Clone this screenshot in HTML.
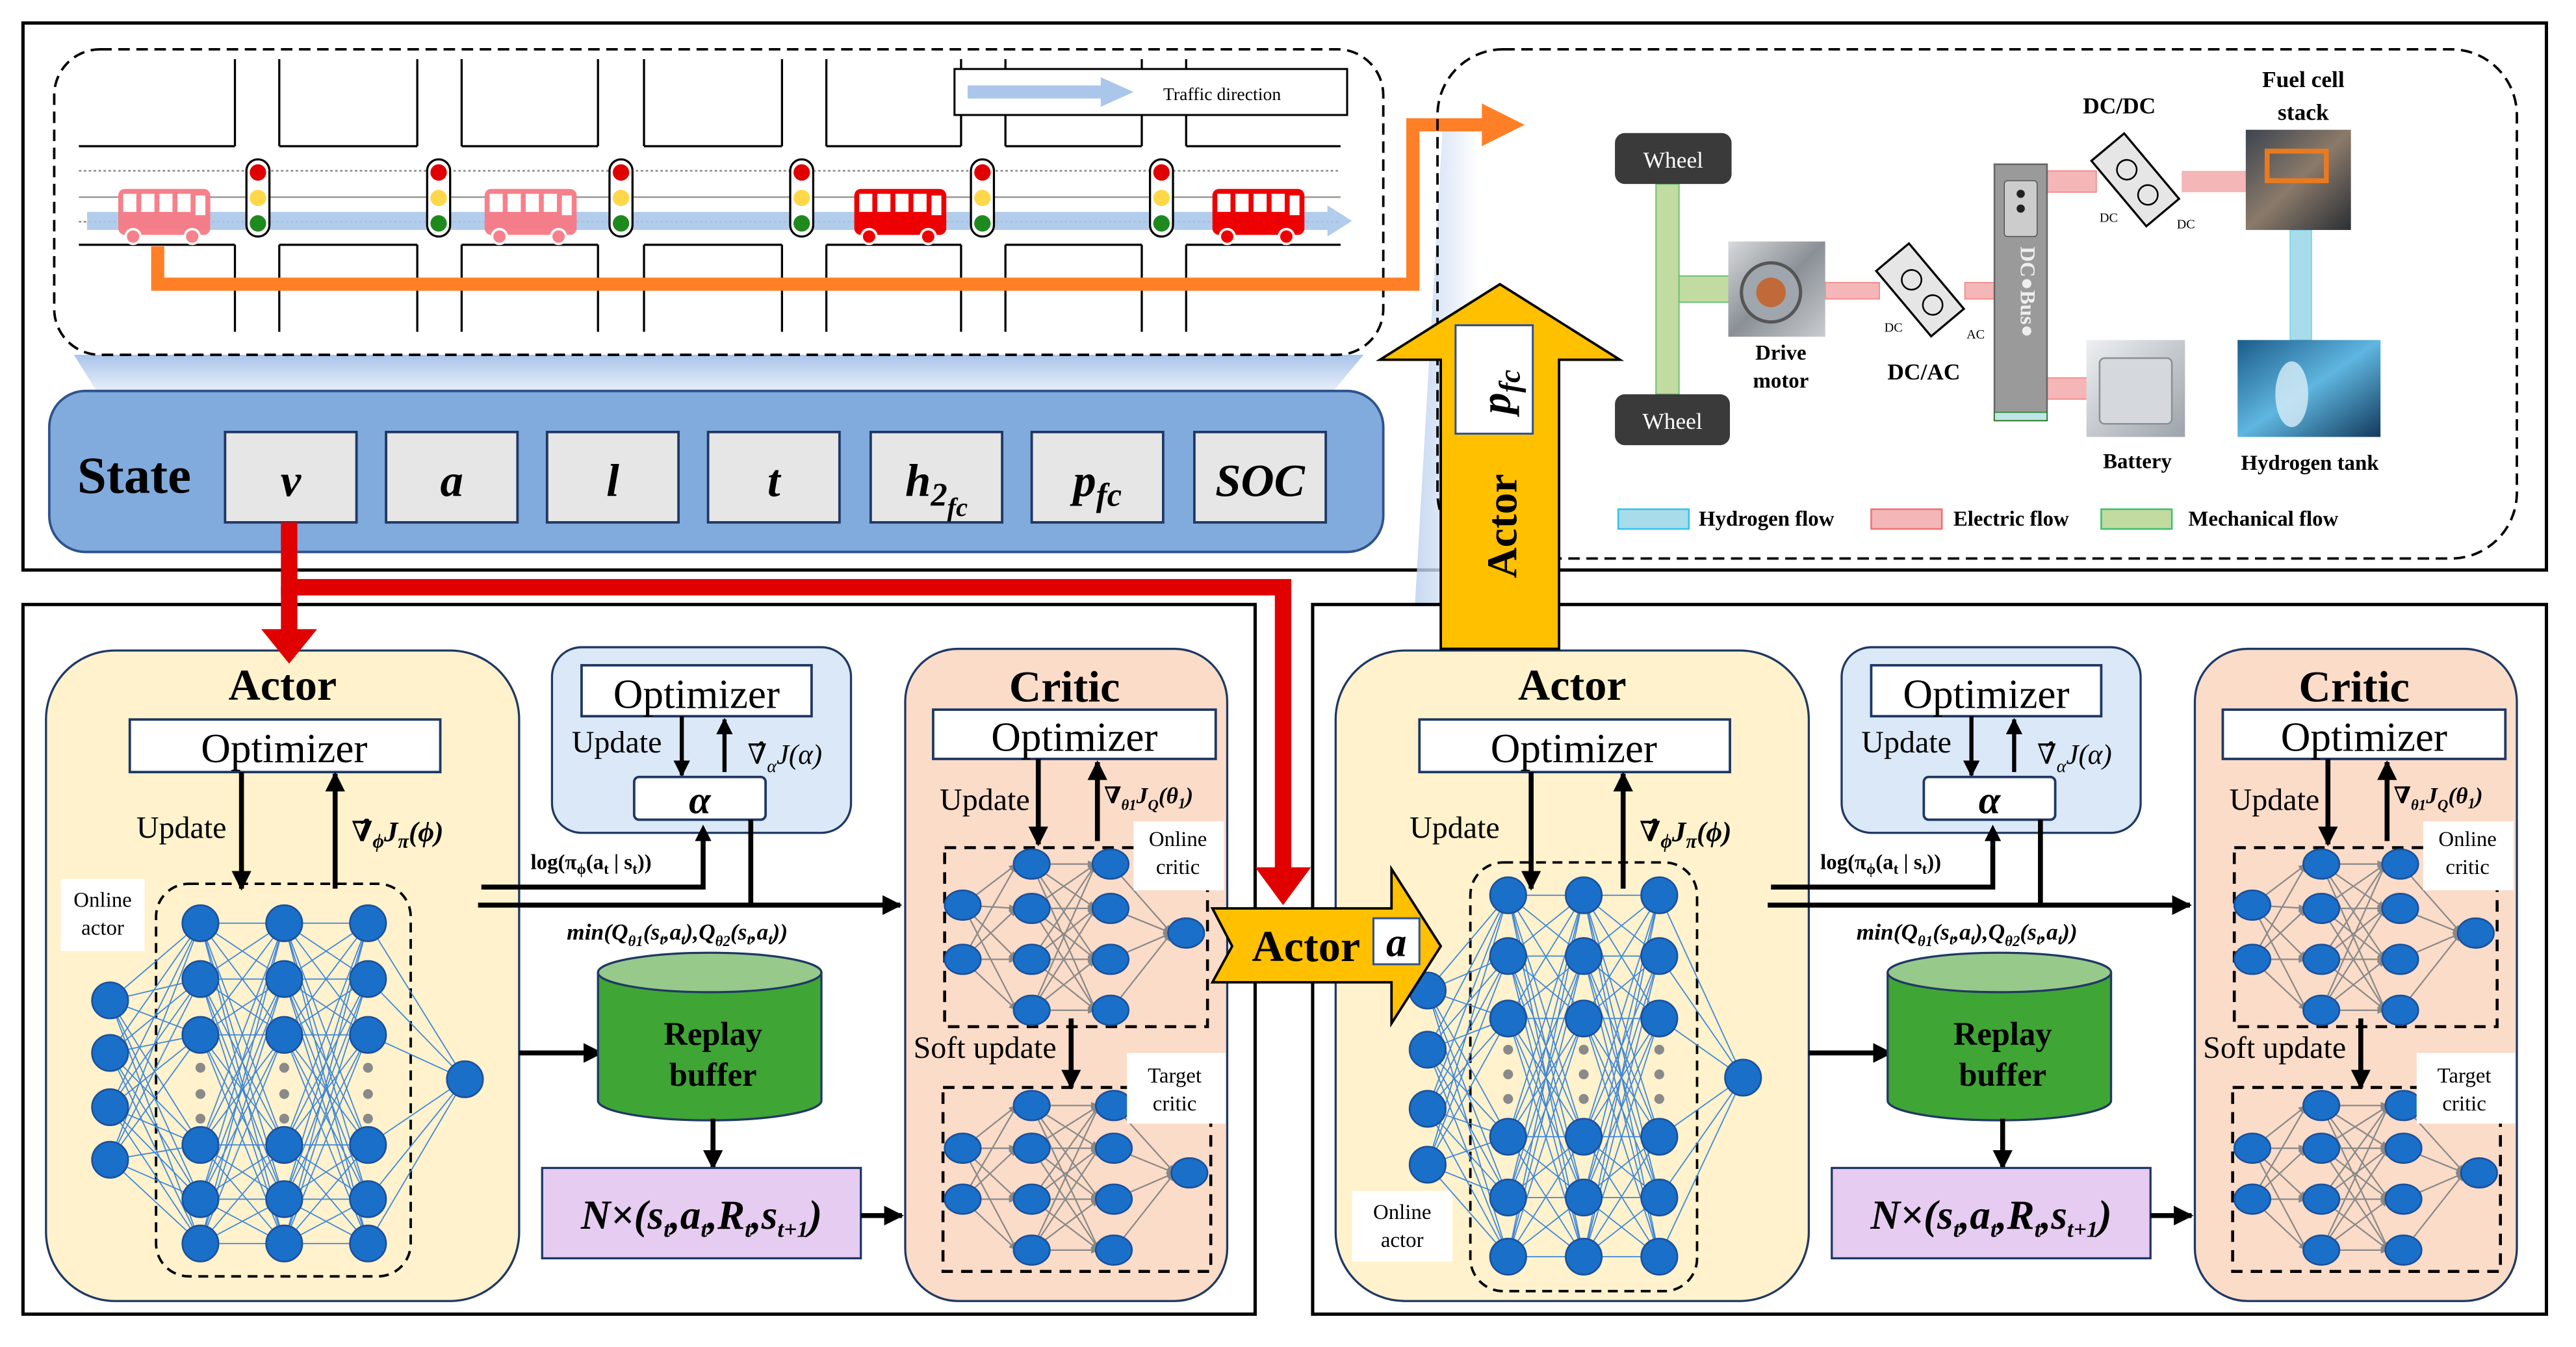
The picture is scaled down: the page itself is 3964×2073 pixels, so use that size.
<!DOCTYPE html>
<html><head><meta charset="utf-8">
<style>
html,body{margin:0;padding:0;background:#fff;}
svg{display:block;}
text{font-family:"Liberation Serif","DejaVu Serif",serif;}
</style></head>
<body>
<svg id="s" xmlns="http://www.w3.org/2000/svg" width="3964" height="2073" viewBox="0 0 1568 820" preserveAspectRatio="none">
<defs>
<marker id="ah" viewBox="0 0 10 10" refX="9" refY="5" markerWidth="4" markerHeight="4" orient="auto-start-reverse" markerUnits="strokeWidth"><path d="M0,0 L10,5 L0,10 z" fill="#000"/></marker>
<marker id="gh" viewBox="0 0 10 10" refX="9" refY="5" markerWidth="6" markerHeight="6" orient="auto"><path d="M0,1 L10,5 L0,9 z" fill="#888"/></marker>
<linearGradient id="fan" x1="0" y1="0" x2="0" y2="1"><stop offset="0" stop-color="#a9c4ea"/><stop offset="1" stop-color="#eef3fb"/></linearGradient>
<linearGradient id="fan2" x1="1" y1="0" x2="0" y2="0"><stop offset="0" stop-color="#fff"/><stop offset="1" stop-color="#b7cdee"/></linearGradient>
<linearGradient id="img1" x1="0" y1="0" x2="1" y2="1"><stop offset="0" stop-color="#d8dadc"/><stop offset=".5" stop-color="#8a9096"/><stop offset="1" stop-color="#c9ccd0"/></linearGradient>
<linearGradient id="img2" x1="0" y1="0" x2="1" y2="1"><stop offset="0" stop-color="#3c4450"/><stop offset=".5" stop-color="#8b7a6a"/><stop offset="1" stop-color="#2a2f36"/></linearGradient>
<linearGradient id="img3" x1="0" y1="0" x2="1" y2="1"><stop offset="0" stop-color="#1b5c8a"/><stop offset=".5" stop-color="#5fb6e0"/><stop offset="1" stop-color="#123a5c"/></linearGradient>
<linearGradient id="img4" x1="0" y1="0" x2="1" y2="1"><stop offset="0" stop-color="#eef0f2"/><stop offset="1" stop-color="#9ca3aa"/></linearGradient>
</defs>

<rect x="14" y="14" width="1536" height="333" fill="#fff" stroke="#000" stroke-width="2"/>
<polygon points="45,216 830,216 810,240 60,240" fill="url(#fan)"/>
<polygon points="878,80 900,80 900,390 860,390" fill="url(#fan2)" opacity=".8"/>

<rect x="33" y="30" width="809" height="186" rx="28" fill="#fff" stroke="#000" stroke-width="1.5" stroke-dasharray="7,4"/>
<g id="road" stroke="#000" stroke-width="1.3" fill="none"></g>
<line x1="48" y1="104" x2="816" y2="104" stroke="#888" stroke-width="1" stroke-dasharray="1.5,1.5"/>
<line x1="48" y1="120" x2="816" y2="120" stroke="#999" stroke-width="1"/>
<line x1="48" y1="135" x2="816" y2="135" stroke="#888" stroke-width="1" stroke-dasharray="1.5,1.5"/>
<polygon points="53,129 808,129 808,125 823,134.5 808,144 808,140 53,140" fill="#aac6ea" opacity=".9"/>
<g id="lights"></g>
<g id="buses"></g>
<rect x="581" y="42" width="239" height="28" fill="#fff" stroke="#000" stroke-width="1.2"/>
<polygon points="589,52 670,52 670,47 690,56 670,65 670,60 589,60" fill="#aac6ea"/>
<text x="708" y="61" font-size="11">Traffic direction</text>

<polyline points="96,150 96,173 860,173 860,76 905,76" fill="none" stroke="#ff7f27" stroke-width="8"/>
<polygon points="902,63 928,76 902,89" fill="#ff7f27"/>

<rect x="875" y="30" width="657" height="310" rx="40" fill="none" stroke="#000" stroke-width="1.5" stroke-dasharray="7,4"/>
<rect x="1008" y="112" width="14" height="128" fill="#c2dba0" stroke="#6cc17a" stroke-width=".8"/>
<rect x="1022" y="168" width="31" height="16" fill="#c2dba0" stroke="#6cc17a" stroke-width=".8"/>
<rect x="1111" y="172" width="33" height="10" fill="#f4b6b6" stroke="#f08080" stroke-width=".6"/>
<rect x="1196" y="172" width="19" height="10" fill="#f4b6b6" stroke="#f08080" stroke-width=".6"/>
<rect x="1246" y="104" width="30" height="13" fill="#f4b6b6" stroke="#f08080" stroke-width=".6"/>
<rect x="1328" y="104" width="41" height="13" fill="#f4b6b6"/>
<rect x="1246" y="230" width="25" height="13" fill="#f4b6b6" stroke="#f08080" stroke-width=".6"/>
<rect x="1394" y="140" width="13" height="67" fill="#a8dcea" stroke="#6cd0ec" stroke-width=".6"/>
<rect x="983" y="81" width="71" height="31" rx="6" fill="#3a3a3a"/>
<text x="1018.5" y="102" font-size="14" fill="#fff" text-anchor="middle">Wheel</text>
<rect x="983" y="240" width="70" height="31" rx="6" fill="#3a3a3a"/>
<text x="1018" y="261" font-size="14" fill="#fff" text-anchor="middle">Wheel</text>
<rect x="1052" y="147" width="59" height="58" fill="url(#img1)"/>
<circle cx="1078" cy="178" r="18" fill="#a0a6ad" stroke="#555" stroke-width="2"/>
<circle cx="1078" cy="178" r="9" fill="#c06a3a"/>
<text x="1084" y="219" font-size="13" font-weight="bold" text-anchor="middle">Drive</text>
<text x="1084" y="236" font-size="13" font-weight="bold" text-anchor="middle">motor</text>
<g transform="translate(1170,178) rotate(-40)"><rect x="-13" y="-28" width="26" height="52" fill="#e6e6e6" stroke="#000" stroke-width="1.3"/><circle cx="0" cy="-10" r="6" fill="none" stroke="#000"/><circle cx="0" cy="10" r="6" fill="none" stroke="#000"/></g>
<text x="1147" y="202" font-size="8">DC</text><text x="1197" y="206" font-size="8">AC</text>
<text x="1171" y="231" font-size="14" font-weight="bold" text-anchor="middle">DC/AC</text>
<rect x="1214" y="100" width="32" height="156" fill="#9a9a9a" stroke="#666"/>
<rect x="1220" y="110" width="20" height="34" rx="2" fill="#ccc" stroke="#555" stroke-width=".6"/>
<circle cx="1230" cy="118" r="2.5" fill="#222"/><circle cx="1230" cy="127" r="2.5" fill="#222"/>
<text x="1230" y="150" font-size="13" font-weight="bold" fill="#eee" transform="rotate(90 1230 150)">DC●Bus●</text>
<rect x="1214" y="251" width="32" height="5" fill="#bfe6e6" stroke="#2a7a2a" stroke-width=".6"/>
<g transform="translate(1301,111) rotate(-40)"><rect x="-13" y="-28" width="26" height="52" fill="#e6e6e6" stroke="#000" stroke-width="1.3"/><circle cx="0" cy="-10" r="6" fill="none" stroke="#000"/><circle cx="0" cy="10" r="6" fill="none" stroke="#000"/></g>
<text x="1278" y="135" font-size="8">DC</text><text x="1325" y="139" font-size="8">DC</text>
<text x="1290" y="69" font-size="14" font-weight="bold" text-anchor="middle">DC/DC</text>
<rect x="1367" y="79" width="64" height="61" fill="url(#img2)"/>
<rect x="1380" y="92" width="36" height="18" fill="none" stroke="#e87a20" stroke-width="3"/>
<text x="1402" y="53" font-size="14" font-weight="bold" text-anchor="middle">Fuel cell</text>
<text x="1402" y="73" font-size="14" font-weight="bold" text-anchor="middle">stack</text>
<rect x="1270" y="207" width="60" height="59" fill="url(#img4)"/>
<rect x="1278" y="218" width="44" height="40" rx="3" fill="#d5d8dc" stroke="#8a9096"/>
<text x="1301" y="285" font-size="13" font-weight="bold" text-anchor="middle">Battery</text>
<rect x="1362" y="207" width="87" height="59" fill="url(#img3)"/>
<ellipse cx="1395" cy="240" rx="10" ry="20" fill="#d8eef8" opacity=".8"/>
<text x="1406" y="286" font-size="13" font-weight="bold" text-anchor="middle">Hydrogen tank</text>
<rect x="985" y="310" width="43" height="12" fill="#a8dcea" stroke="#2ec4ee"/>
<text x="1034" y="320" font-size="13" font-weight="bold">Hydrogen flow</text>
<rect x="1139" y="310" width="43" height="12" fill="#f4b6b6" stroke="#f07070"/>
<text x="1189" y="320" font-size="13" font-weight="bold">Electric flow</text>
<rect x="1279" y="310" width="43" height="12" fill="#c2dba0" stroke="#3cc070"/>
<text x="1332" y="320" font-size="13" font-weight="bold">Mechanical flow</text>

<rect x="30" y="238" width="812" height="98" rx="22" fill="#80abdc" stroke="#2f528f" stroke-width="1.5"/>
<text x="47" y="300" font-size="32" font-weight="bold">State</text>
<g id="cells"></g>

<rect x="14" y="368" width="750" height="432" fill="#fff" stroke="#000" stroke-width="2"/>
<rect x="799" y="368" width="751" height="432" fill="#fff" stroke="#000" stroke-width="2"/>

<g id="left"></g>
<g id="right"></g>

<polyline points="176,318 176,357.5 781,357.5 781,530" fill="none" stroke="#e00000" stroke-width="10"/>
<line x1="176" y1="357" x2="176" y2="385" stroke="#e00000" stroke-width="10"/>
<polygon points="159,383 193,383 176,404" fill="#e00000"/>
<polygon points="764,528 798,528 781,551" fill="#e00000"/>

<polygon points="738,553 847,553 847,529 877,576 847,623 847,598 738,598 750,576" fill="#ffc000" stroke="#000" stroke-width="1.5"/>
<text x="762" y="585" font-size="27" font-weight="bold">Actor</text>
<rect x="836" y="559" width="28" height="28" fill="#fff" stroke="#2f528f" stroke-width="1.2"/>
<text x="850" y="582" font-size="25" font-weight="bold" font-style="italic" text-anchor="middle">a</text>

<polygon points="877,395 877,219 840,219 913,173 986,219 949,219 949,395" fill="#ffc000" stroke="#000" stroke-width="1.5"/>
<rect x="886" y="198" width="47" height="66" fill="#fff" stroke="#2f528f" stroke-width="1.2"/>
<text x="0" y="0" font-size="26" font-weight="bold" font-style="italic" transform="translate(919,252) rotate(-90)">p<tspan font-size="18" dy="6">fc</tspan></text>
<text x="0" y="0" font-size="26" font-weight="bold" transform="translate(923,352) rotate(-90)">Actor</text>
</svg>
<script>
const NS="http://www.w3.org/2000/svg";
function el(p,t,a,txt){const e=document.createElementNS(NS,t);for(const k in a)e.setAttribute(k,a[k]);if(txt!==undefined)e.textContent=txt;p.appendChild(e);return e;}
const road=document.getElementById('road');
const vs=[[143,170],[254,281],[364,392],[476,503],[585,612],[695,722]];
let prev=48;
vs.forEach(p=>{el(road,'line',{x1:prev,y1:89,x2:p[0],y2:89});el(road,'line',{x1:prev,y1:149,x2:p[0],y2:149});prev=p[1];
 p.forEach(x=>{el(road,'line',{x1:x,y1:36,x2:x,y2:89});el(road,'line',{x1:x,y1:149,x2:x,y2:202});});});
el(road,'line',{x1:prev,y1:89,x2:816,y2:89});el(road,'line',{x1:prev,y1:149,x2:816,y2:149});
const L=document.getElementById('lights');
[157,267,378,488,598,707].forEach(x=>{el(L,'rect',{x:x-7,y:97,width:14,height:47,rx:7,fill:'#fff',stroke:'#000','stroke-width':1.3});
el(L,'circle',{cx:x,cy:105,r:5,fill:'#e00000'});el(L,'circle',{cx:x,cy:120.5,r:5,fill:'#ffd84a'});el(L,'circle',{cx:x,cy:136,r:5,fill:'#1e8a1e'});});
const B=document.getElementById('buses');
[[72,'#f77a85',.95],[295,'#f77a85',.95],[520,'#ee0000',1],[738,'#ee0000',1]].forEach(([x,c,o])=>{
 const g=el(B,'g',{opacity:o});
 el(g,'rect',{x:x,y:115,width:56,height:28,rx:4,fill:c});
 for(let i=0;i<4;i++)el(g,'rect',{x:x+3+i*11,y:118,width:8,height:11,fill:'#fff'});
 el(g,'rect',{x:x+47,y:119,width:6,height:12,fill:'#fff'});
 el(g,'circle',{cx:x+9,cy:144,r:4.5,fill:c,stroke:'#fff','stroke-width':1.5});
 el(g,'circle',{cx:x+45,cy:144,r:4.5,fill:c,stroke:'#fff','stroke-width':1.5});
});
const C=document.getElementById('cells');
const cells=[[137,'v'],[235,'a'],[333,'l'],[431,'t'],[530,'h'],[628,'p'],[727,'SOC']];
cells.forEach(([x,t])=>{el(C,'rect',{x:x,y:263,width:80,height:55,fill:'#e6e6e6',stroke:'#1f3864','stroke-width':1.5});
 const tx=el(C,'text',{x:x+40,y:302,'font-size':28,'font-weight':'bold','font-style':'italic','text-anchor':'middle'});
 if(t=='h'){tx.innerHTML='h<tspan font-size="20" dy="6">2</tspan><tspan font-size="16" dy="6">fc</tspan>';}
 else if(t=='p'){tx.innerHTML='p<tspan font-size="20" dy="6">fc</tspan>';}
 else tx.textContent=t;});

function net(g,layers,color,w,arrow){
 for(let i=0;i<layers.length-1;i++){const a=layers[i],b=layers[i+1];
  a.pts.forEach(p=>b.pts.forEach(q=>{const at={x1:a.x,y1:p,x2:b.x-(arrow?9:0),y2:q,stroke:color,'stroke-width':w};if(arrow)at['marker-end']='url(#gh)';el(g,'line',at);}));}
 layers.forEach(l=>l.pts.forEach(p=>el(g,'ellipse',{cx:l.x,cy:p,rx:l.r||11,ry:l.ry||11,fill:'#1a6fc8',stroke:'#1a4f9a','stroke-width':1})));
 layers.forEach(l=>{if(l.dots)l.dots.forEach(d=>el(g,'circle',{cx:l.x,cy:d,r:3,fill:'#8a8a8a'}));});
}
function arrowLine(g,x1,y1,x2,y2,w){el(g,'line',{x1,y1,x2,y2,stroke:'#000','stroke-width':w||3,'marker-end':'url(#ah)'});}
function txt(g,x,y,s,a,html){const t=el(g,'text',Object.assign({x,y},a||{}));if(html)t.innerHTML=s;else t.textContent=s;return t;}

function panel(g,o,cfg){
 el(g,'rect',{x:28+o,y:396,width:288,height:396,rx:42,fill:'#fff2cc',stroke:'#1f3864','stroke-width':1.3});
 txt(g,172+o,426,'Actor',{'font-size':27,'font-weight':'bold','text-anchor':'middle'});
 el(g,'rect',{x:79+o,y:438,width:189,height:32,fill:'#fff',stroke:'#1f3864','stroke-width':1.5});
 txt(g,173+o,464,'Optimizer',{'font-size':25,'text-anchor':'middle'});
 txt(g,83+o+cfg.updDx,510,'Update',{'font-size':19});
 const ax=cfg.ax;
 arrowLine(g,ax[0],470,ax[0],541);arrowLine(g,ax[1],541,ax[1],471);
 txt(g,ax[1]+10,512,'∇̂<tspan font-size="12" dy="4">ϕ</tspan><tspan dy="-4">J</tspan><tspan font-size="12" dy="4">π</tspan><tspan dy="-4">(ϕ)</tspan>',{'font-size':17,'font-weight':'bold','font-style':'italic'},true);
 const d=cfg.box;
 el(g,'rect',{x:d[0],y:d[1],width:d[2],height:d[3],rx:20,fill:'none',stroke:'#000','stroke-width':1.5,'stroke-dasharray':'6,4'});
 const lb=cfg.lbl;
 el(g,'rect',{x:lb[0],y:lb[1],width:lb[2],height:lb[3],fill:'#fff'});
 txt(g,lb[0]+lb[2]/2,lb[1]+17,'Online',{'font-size':13,'text-anchor':'middle'});
 txt(g,lb[0]+lb[2]/2,lb[1]+34,'actor',{'font-size':13,'text-anchor':'middle'});
 net(g,cfg.layers,'#3f86d8',.7,false);

 el(g,'rect',{x:336+o,y:394,width:182,height:113,rx:18,fill:'#dae8f7',stroke:'#1f3864','stroke-width':1.3});
 el(g,'rect',{x:354+o,y:405,width:140,height:31,fill:'#fff',stroke:'#1f3864','stroke-width':1.5});
 txt(g,424+o,431,'Optimizer',{'font-size':25,'text-anchor':'middle'});
 txt(g,348+o,458,'Update',{'font-size':19});
 arrowLine(g,415+o,436,415+o,472,2.5);arrowLine(g,441+o,470,441+o,438,2.5);
 txt(g,455+o,465,'∇̂<tspan font-size="11" dy="5">α</tspan><tspan dy="-5">J(α)</tspan>',{'font-size':17,'font-style':'italic'},true);
 el(g,'rect',{x:386+o,y:473,width:80,height:26,rx:3,fill:'#fff',stroke:'#1f3864','stroke-width':1.5});
 txt(g,426+o,495,'α',{'font-size':24,'font-weight':'bold','font-style':'italic','text-anchor':'middle'});
 txt(g,323+o,529,'log(π<tspan font-size="9" dy="3">ϕ</tspan><tspan dy="-3">(a</tspan><tspan font-size="9" dy="3">t</tspan><tspan dy="-3"> | s</tspan><tspan font-size="9" dy="3">t</tspan><tspan dy="-3">))</tspan>',{'font-size':13,'font-weight':'bold'},true);
 el(g,'polyline',{points:`${293+o},540 ${428+o},540 ${428+o},509`,fill:'none',stroke:'#000','stroke-width':3});
 el(g,'polygon',{points:`${423+o},512 ${433+o},512 ${428+o},502`,fill:'#000'});
 el(g,'line',{x1:457+o,y1:499,x2:457+o,y2:551,stroke:'#000','stroke-width':3});
 arrowLine(g,291+o,551,548+o,551,3);
 txt(g,345+o,572,'<tspan font-style="italic">min</tspan>(Q<tspan font-size="9" dy="4">θ1</tspan><tspan dy="-4">(s</tspan><tspan font-size="9" dy="3">t</tspan><tspan dy="-3">,a</tspan><tspan font-size="9" dy="3">t</tspan><tspan dy="-3">),Q</tspan><tspan font-size="9" dy="4">θ2</tspan><tspan dy="-4">(s</tspan><tspan font-size="9" dy="3">t</tspan><tspan dy="-3">,a</tspan><tspan font-size="9" dy="3">t</tspan><tspan dy="-3">))</tspan>',{'font-size':14,'font-weight':'bold','font-style':'italic'},true);
 arrowLine(g,316+o,641,366+o,641,3);
 el(g,'path',{d:`M${364+o},592 L${364+o},670 A68,12 0 0 0 ${500+o},670 L${500+o},592`,fill:'#3fa535',stroke:'#1f3864','stroke-width':1.3});
 el(g,'ellipse',{cx:432+o,cy:592,rx:68,ry:12,fill:'#96c98a',stroke:'#1f3864','stroke-width':1.3});
 txt(g,434+o,636,'Replay',{'font-size':20,'font-weight':'bold','text-anchor':'middle'});
 txt(g,434+o,661,'buffer',{'font-size':20,'font-weight':'bold','text-anchor':'middle'});
 arrowLine(g,434+o,681,434+o,711,3);
 el(g,'rect',{x:330+o,y:711,width:194,height:55,fill:'#e6ccf0',stroke:'#1f3864','stroke-width':1.3});
 txt(g,427+o,748,'N×(s<tspan font-size="14" dy="5">t</tspan><tspan dy="-5">,a</tspan><tspan font-size="14" dy="5">t</tspan><tspan dy="-5">,R</tspan><tspan font-size="14" dy="5">t</tspan><tspan dy="-5">,s</tspan><tspan font-size="14" dy="5">t+1</tspan><tspan dy="-5">)</tspan>',{'font-size':25,'font-weight':'bold','font-style':'italic','text-anchor':'middle'},true);
 arrowLine(g,524+o,740,549+o,740,3);
 el(g,'rect',{x:551+o,y:395,width:196,height:397,rx:32,fill:'#fbdcc8',stroke:'#1f3864','stroke-width':1.3});
 txt(g,648+o,427,'Critic',{'font-size':27,'font-weight':'bold','text-anchor':'middle'});
 el(g,'rect',{x:568+o,y:432,width:172,height:30,fill:'#fff',stroke:'#1f3864','stroke-width':1.5});
 txt(g,654+o,457,'Optimizer',{'font-size':25,'text-anchor':'middle'});
 txt(g,572+o,493,'Update',{'font-size':19});
 arrowLine(g,632+o,462,632+o,514,3);arrowLine(g,668+o,512,668+o,464,3);
 txt(g,672+o,489,'∇<tspan font-size="9" dy="4">θ1</tspan><tspan dy="-4">J</tspan><tspan font-size="9" dy="4">Q</tspan><tspan dy="-4">(θ</tspan><tspan font-size="9" dy="3">1</tspan><tspan dy="-3">)</tspan>',{'font-size':14,'font-weight':'bold','font-style':'italic'},true);
 el(g,'rect',{x:575+o,y:516,width:160,height:109,fill:'none',stroke:'#000','stroke-width':1.8,'stroke-dasharray':'7,5'});
 net(g,[{x:586+o,pts:[551,584],r:11,ry:9},{x:628+o,pts:[526,553,584,615],r:11,ry:9},{x:676+o,pts:[526,553,584,615],r:11,ry:9},{x:722+o,pts:[568],r:11,ry:9}],'#8a8a8a',.9,true);
 el(g,'rect',{x:690+o,y:500,width:55,height:42,fill:'#fff'});
 txt(g,717+o,515,'Online',{'font-size':13,'text-anchor':'middle'});
 txt(g,717+o,532,'critic',{'font-size':13,'text-anchor':'middle'});
 txt(g,556+o,644,'Soft update',{'font-size':19});
 arrowLine(g,652+o,620,652+o,662,3);
 el(g,'rect',{x:574+o,y:662,width:163,height:112,fill:'none',stroke:'#000','stroke-width':1.8,'stroke-dasharray':'7,5'});
 net(g,[{x:586+o,pts:[699,730],r:11,ry:9},{x:628+o,pts:[673,699,730,761],r:11,ry:9},{x:678+o,pts:[673,699,730,761],r:11,ry:9},{x:724+o,pts:[714],r:11,ry:9}],'#8a8a8a',.9,true);
 el(g,'rect',{x:686+o,y:641,width:60,height:43,fill:'#fff'});
 txt(g,715+o,659,'Target',{'font-size':13,'text-anchor':'middle'});
 txt(g,715+o,676,'critic',{'font-size':13,'text-anchor':'middle'});
}
const hid=[562,596,630,697,730,757], dots=[650,666,681];
panel(document.getElementById('left'),0,{updDx:0,ax:[147,204],box:[95,538,155,239],lbl:[37,535,51,44],
 layers:[{x:67,pts:[609,641,674,706]},{x:122,pts:hid,dots},{x:173,pts:hid,dots},{x:224,pts:hid,dots},{x:283,pts:[657]}]});
const hid2=[545,582,620,692,729,765], dots2=[639,654,669];
panel(document.getElementById('right'),785,{updDx:-10,ax:[932,988],box:[895,525,138,261],lbl:[823,725,61,43],
 layers:[{x:869,pts:[603,639,675,709]},{x:918,pts:hid2,dots:dots2},{x:964,pts:hid2,dots:dots2},{x:1010,pts:hid2,dots:dots2},{x:1061,pts:[656]}]});
const s=document.getElementById('s');
['left','right'].forEach(id=>{const g=document.getElementById(id);s.insertBefore(g,s.querySelector('polyline[stroke="#e00000"]'));});
</script>
</body></html>
